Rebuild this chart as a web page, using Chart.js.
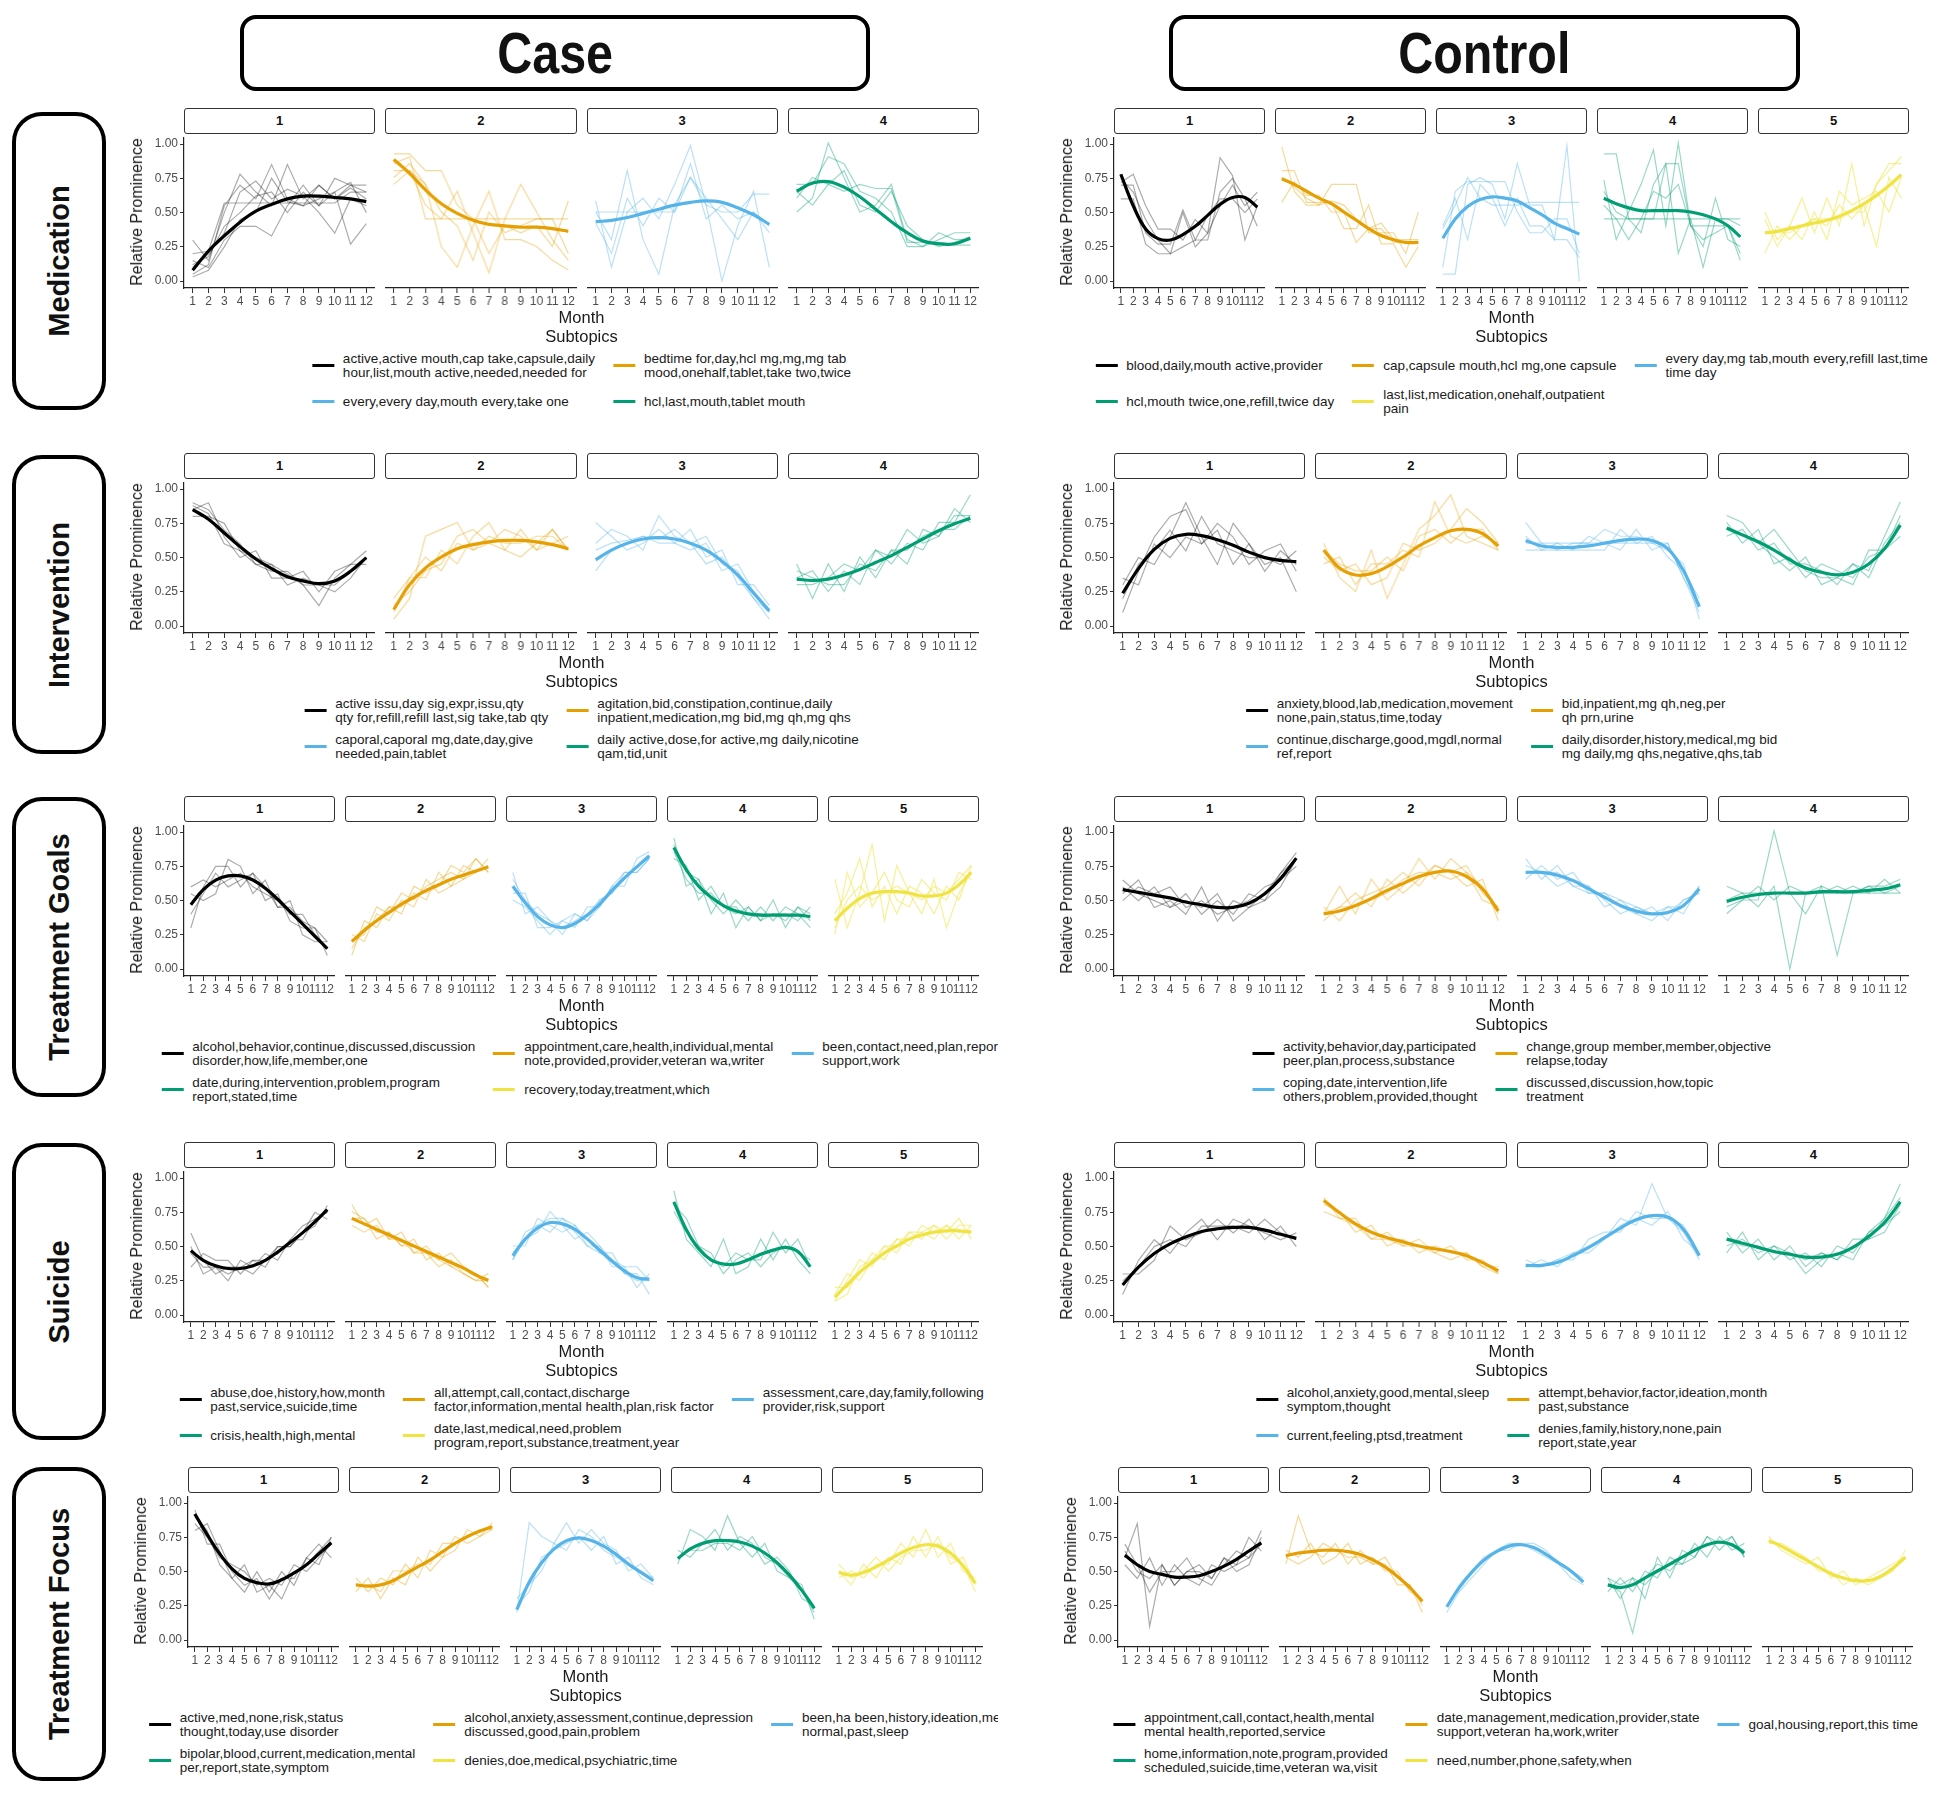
<!DOCTYPE html>
<html lang="en">
<head>
<meta charset="UTF-8">
<title>Subtopic prominence by month</title>
<script src="https://cdn.jsdelivr.net/npm/chart.js@4.4.1/dist/chart.umd.min.js"></script>
<style>
  body { margin: 0; background: #fff; font-family: "Liberation Sans", Arial, sans-serif; color: #111; }
  #page { position: relative; width: 1950px; height: 1806px; overflow: hidden; }
  #caseClip { position: absolute; left: 0; top: 0; width: 998px; height: 1806px; overflow: hidden; }
  .head { position: absolute; top: 15px; height: 76px; border: 4px solid #000; border-radius: 16px; box-sizing: border-box; display: flex; align-items: center; justify-content: center; }
  .head span { font-weight: bold; font-size: 57px; transform: scaleX(0.85); }
  .side { position: absolute; left: 12px; width: 94px; border: 4px solid #000; border-radius: 30px; box-sizing: border-box; }
  .side span { position: absolute; left: 50%; top: 50%; transform: translate(-50%, -50%) rotate(-90deg); font-weight: bold; font-size: 29px; white-space: nowrap; }
  .strip { position: absolute; height: 26px; border: 1.5px solid #333; border-radius: 3px; box-sizing: border-box; text-align: center; font-weight: bold; font-size: 13px; line-height: 23px; background: #fff; }
  canvas { position: absolute; }
  .ytitle { position: absolute; font-size: 16px; white-space: nowrap; transform: translate(-50%, -50%) rotate(-90deg); color: #1a1a1a; }
  .xtitle { position: absolute; font-size: 16.5px; line-height: 20px; white-space: nowrap; transform: translateX(-50%); color: #1a1a1a; }
  .legend { position: absolute; width: max-content; display: grid; column-gap: 18px; row-gap: 9px; grid-auto-rows: 27px; font-size: 13.5px; line-height: 13.5px; white-space: pre; transform: translateX(-50%); color: #1a1a1a; }
  .item { display: flex; align-items: center; }
  .key { width: 22px; height: 3.5px; margin-right: 9px; flex: none; }
</style>
</head>
<body>
<div id="page">
  <div class="head" style="left:240px;width:630px;"><span>Case</span></div>
  <div class="head" style="left:1169px;width:631px;"><span>Control</span></div>
  <div class="side" style="top:112px;height:298px;"><span>Medication</span></div>
  <div class="side" style="top:455px;height:299px;"><span>Intervention</span></div>
  <div class="side" style="top:797px;height:300px;"><span>Treatment Goals</span></div>
  <div class="side" style="top:1143px;height:297px;"><span>Suicide</span></div>
  <div class="side" style="top:1467px;height:314px;"><span>Treatment Focus</span></div>
  <div id="caseClip"></div>
</div>
<script>
const months = [1, 2, 3, 4, 5, 6, 7, 8, 9, 10, 11, 12];
const yTicks = [0, 0.25, 0.5, 0.75, 1];
const palette = ['#000000', '#E69F00', '#56B4E9', '#009E73', '#F0E442'];
const thinAlpha = [0.33, 0.4, 0.4, 0.4, 0.55];

// values are relative prominence x 100, month 1..12
// ---- Medication ----
const medCaseFit = [
  [8, 22, 33, 43, 51, 56, 60, 62, 62, 61, 60, 58],
  [88, 78, 66, 56, 49, 44, 41, 40, 39, 39, 38, 36],
  [43, 44, 46, 49, 52, 55, 57, 58, 57, 53, 48, 41],
  [65, 71, 72, 68, 61, 52, 43, 35, 29, 27, 27, 31]
];
const medCaseRaw = [
  [[5, 12, 55, 70, 60, 85, 60, 55, 70, 60, 70, 65], [10, 20, 35, 65, 73, 60, 67, 62, 50, 35, 60, 55], [3, 8, 25, 45, 50, 75, 58, 55, 60, 65, 72, 50],
   [20, 22, 57, 57, 57, 57, 57, 57, 57, 57, 65, 65], [15, 10, 30, 40, 40, 33, 55, 70, 55, 65, 27, 42], [30, 15, 50, 78, 65, 55, 85, 60, 70, 60, 68, 60],
   [12, 18, 40, 50, 62, 65, 50, 65, 55, 75, 70, 70]],
  [[92, 92, 80, 80, 55, 45, 20, 40, 35, 40, 25, 58], [85, 90, 45, 45, 65, 35, 6, 45, 70, 50, 30, 15], [70, 80, 70, 50, 40, 15, 50, 35, 40, 45, 45, 20],
   [80, 80, 55, 45, 45, 45, 45, 45, 45, 45, 45, 45], [75, 85, 70, 25, 10, 40, 65, 30, 30, 25, 15, 8]],
  [[58, 10, 50, 60, 45, 70, 98, 55, 0, 40, 65, 10], [50, 30, 80, 30, 5, 55, 75, 60, 45, 30, 50, 35], [50, 50, 50, 50, 50, 50, 75, 55, 50, 50, 63, 63],
   [42, 20, 60, 40, 60, 50, 85, 45, 55, 45, 50, 40]],
  [[50, 60, 100, 75, 50, 55, 70, 30, 25, 35, 30, 30], [70, 70, 90, 85, 65, 60, 50, 25, 25, 30, 35, 35], [65, 55, 70, 65, 70, 67, 67, 28, 28, 28, 26, 26],
   [60, 75, 70, 80, 55, 50, 65, 40, 30, 25, 28, 32]]
];
const medCaseKeys = [
  'active,active mouth,cap take,capsule,daily\nhour,list,mouth active,needed,needed for',
  'bedtime for,day,hcl mg,mg,mg tab\nmood,onehalf,tablet,take two,twice',
  'every,every day,mouth every,take one',
  'hcl,last,mouth,tablet mouth'
];
const medCtrlFit = [
  [78, 55, 38, 31, 30, 34, 40, 48, 56, 61, 61, 54],
  [74, 70, 65, 60, 56, 50, 44, 38, 33, 30, 28, 28],
  [31, 45, 54, 59, 61, 60, 58, 53, 48, 42, 38, 34],
  [60, 56, 53, 51, 51, 51, 51, 50, 48, 45, 40, 32],
  [35, 36, 38, 40, 42, 44, 47, 51, 56, 62, 69, 77]
];
const medCtrlRaw = [
  [[72, 78, 55, 38, 38, 30, 45, 35, 90, 77, 30, 55], [60, 60, 27, 20, 20, 25, 30, 30, 65, 75, 60, 40], [75, 65, 45, 30, 20, 50, 25, 35, 55, 70, 55, 65],
   [70, 70, 35, 27, 27, 52, 30, 48, 60, 60, 50, 60]],
  [[97, 65, 55, 55, 70, 70, 70, 35, 35, 35, 20, 50], [80, 80, 57, 57, 57, 38, 38, 55, 27, 27, 10, 25], [57, 72, 62, 62, 50, 50, 28, 38, 42, 30, 30, 30],
   [75, 68, 60, 55, 58, 55, 45, 38, 38, 28, 28, 28]],
  [[5, 5, 70, 75, 70, 45, 85, 55, 55, 30, 98, 0], [10, 65, 72, 72, 72, 72, 50, 35, 35, 45, 45, 20], [40, 60, 30, 70, 60, 40, 60, 40, 40, 30, 30, 17],
   [38, 55, 75, 60, 55, 55, 55, 57, 57, 57, 57, 57]],
  [[92, 92, 45, 45, 45, 85, 85, 40, 40, 40, 40, 15], [73, 30, 50, 70, 95, 40, 100, 40, 25, 60, 30, 25], [65, 50, 45, 35, 70, 85, 20, 45, 10, 45, 45, 40],
   [45, 45, 45, 45, 45, 45, 45, 45, 45, 45, 45, 45], [55, 45, 30, 45, 65, 60, 70, 40, 30, 35, 40, 20]],
  [[50, 30, 40, 60, 35, 60, 40, 85, 40, 70, 80, 90], [20, 40, 30, 40, 45, 40, 55, 45, 55, 25, 75, 60], [35, 35, 35, 40, 45, 45, 45, 50, 50, 70, 85, 85],
   [45, 25, 40, 30, 50, 30, 65, 55, 60, 65, 50, 75]]
];
const medCtrlKeys = [
  'blood,daily,mouth active,provider',
  'cap,capsule mouth,hcl mg,one capsule',
  'every day,mg tab,mouth every,refill last,time\ntime day',
  'hcl,mouth twice,one,refill,twice day',
  'last,list,medication,onehalf,outpatient\npain'
];

// ---- Intervention ----
const intCaseFit = [
  [85, 78, 68, 58, 49, 42, 36, 33, 31, 33, 40, 50],
  [12, 30, 42, 50, 56, 59, 61, 62, 62, 61, 59, 56],
  [48, 55, 60, 63, 64, 63, 60, 55, 47, 37, 24, 11],
  [34, 33, 34, 37, 41, 46, 51, 57, 63, 69, 74, 78]
];
const intCaseRaw = [
  [[90, 85, 70, 60, 45, 40, 40, 30, 15, 35, 45, 55], [85, 90, 65, 50, 55, 35, 35, 40, 25, 40, 45, 45], [80, 80, 75, 55, 45, 45, 30, 35, 30, 30, 40, 50],
   [88, 82, 60, 55, 50, 45, 38, 30, 30, 25, 35, 50]],
  [[5, 20, 65, 70, 75, 55, 60, 70, 65, 55, 70, 55], [20, 35, 35, 55, 45, 65, 75, 55, 50, 60, 70, 55], [10, 35, 50, 40, 60, 55, 65, 60, 60, 65, 65, 55],
   [15, 25, 40, 45, 65, 70, 60, 55, 70, 55, 60, 65]],
  [[60, 70, 65, 55, 80, 65, 60, 45, 50, 35, 20, 5], [40, 55, 60, 65, 60, 60, 55, 60, 40, 45, 25, 10], [75, 65, 55, 60, 70, 60, 70, 50, 55, 30, 30, 15],
   [55, 60, 62, 65, 63, 70, 60, 65, 45, 40, 20, 10]],
  [[45, 20, 45, 25, 50, 35, 55, 45, 70, 65, 85, 75], [35, 40, 25, 40, 30, 55, 45, 60, 55, 75, 75, 95], [30, 30, 35, 45, 40, 55, 50, 70, 60, 65, 80, 80],
   [40, 35, 30, 30, 45, 40, 55, 55, 65, 70, 70, 80]]
];
const intCaseKeys = [
  'active issu,day sig,expr,issu,qty\nqty for,refill,refill last,sig take,tab qty',
  'agitation,bid,constipation,continue,daily\ninpatient,medication,mg bid,mg qh,mg qhs',
  'caporal,caporal mg,date,day,give\nneeded,pain,tablet',
  'daily active,dose,for active,mg daily,nicotine\nqam,tid,unit'
];
const intCtrlFit = [
  [24, 42, 56, 64, 67, 66, 63, 59, 54, 50, 48, 47],
  [55, 42, 37, 38, 43, 50, 58, 64, 69, 70, 67, 58],
  [62, 58, 57, 57, 58, 60, 62, 63, 62, 56, 40, 14],
  [71, 66, 61, 55, 48, 42, 39, 37, 39, 45, 56, 73]
];
const intCtrlRaw = [
  [[10, 40, 65, 80, 85, 60, 75, 65, 45, 55, 60, 40], [30, 50, 45, 65, 90, 65, 45, 75, 60, 45, 50, 25], [20, 45, 55, 70, 55, 80, 60, 55, 50, 50, 45, 55],
   [35, 30, 60, 50, 65, 60, 70, 45, 60, 40, 55, 45]],
  [[60, 35, 25, 55, 20, 45, 70, 80, 95, 65, 60, 55], [50, 40, 45, 30, 35, 60, 55, 60, 70, 85, 75, 60], [55, 45, 40, 40, 50, 40, 65, 70, 60, 70, 70, 55],
   [45, 50, 30, 45, 45, 55, 50, 90, 65, 60, 65, 60]],
  [[75, 60, 55, 60, 60, 70, 65, 65, 60, 55, 45, 5], [55, 55, 60, 55, 55, 55, 70, 60, 60, 60, 35, 15], [60, 60, 60, 60, 60, 60, 60, 60, 65, 50, 40, 20],
   [65, 55, 55, 55, 65, 60, 55, 70, 55, 60, 35, 10]],
  [[80, 75, 60, 70, 55, 40, 35, 35, 30, 55, 55, 80], [65, 70, 55, 60, 45, 45, 40, 30, 45, 40, 65, 90], [75, 60, 70, 45, 50, 35, 45, 40, 35, 50, 55, 65],
   [70, 65, 60, 50, 40, 50, 30, 35, 45, 35, 60, 75]]
];
const intCtrlKeys = [
  'anxiety,blood,lab,medication,movement\nnone,pain,status,time,today',
  'bid,inpatient,mg qh,neg,per\nqh prn,urine',
  'continue,discharge,good,mgdl,normal\nref,report',
  'daily,disorder,history,medical,mg bid\nmg daily,mg qhs,negative,qhs,tab'
];

// ---- Treatment Goals ----
const goalCaseFit = [
  [47, 58, 65, 68, 68, 65, 59, 51, 42, 33, 24, 15],
  [20, 28, 35, 41, 47, 52, 57, 61, 65, 68, 71, 74],
  [60, 48, 38, 32, 30, 33, 39, 47, 57, 66, 74, 82],
  [88, 72, 60, 52, 46, 42, 40, 39, 39, 39, 39, 38],
  [35, 44, 51, 55, 56, 56, 55, 53, 53, 55, 61, 70]
];
const goalCaseRaw = [
  [[30, 60, 75, 75, 60, 70, 50, 55, 35, 30, 30, 10], [55, 50, 55, 80, 75, 55, 65, 45, 50, 25, 20, 20], [60, 65, 60, 65, 70, 60, 55, 50, 40, 40, 25, 15],
   [40, 55, 70, 60, 65, 70, 60, 45, 45, 35, 30, 20]],
  [[10, 35, 30, 45, 40, 60, 55, 60, 75, 70, 80, 70], [25, 20, 40, 35, 50, 45, 65, 55, 60, 75, 70, 80], [15, 30, 35, 45, 45, 55, 50, 70, 60, 65, 70, 75],
   [20, 25, 45, 40, 55, 50, 60, 65, 70, 65, 80, 70]],
  [[70, 40, 45, 35, 25, 40, 35, 50, 55, 70, 70, 80], [55, 55, 30, 30, 35, 30, 45, 45, 60, 60, 80, 85], [65, 50, 40, 35, 30, 35, 40, 50, 55, 65, 75, 80],
   [50, 45, 35, 25, 35, 40, 35, 45, 60, 70, 70, 80]],
  [[95, 60, 65, 40, 55, 30, 45, 35, 50, 30, 45, 35], [80, 75, 50, 60, 45, 45, 35, 45, 35, 45, 40, 30], [90, 70, 65, 50, 40, 50, 40, 40, 40, 35, 45, 40],
   [85, 65, 55, 55, 45, 40, 45, 35, 40, 40, 35, 45]],
  [[65, 30, 55, 90, 35, 75, 55, 40, 65, 30, 55, 70], [40, 55, 80, 45, 60, 40, 60, 55, 40, 60, 50, 75], [25, 70, 45, 55, 70, 50, 45, 65, 55, 50, 70, 65],
   [30, 50, 60, 50, 55, 60, 55, 50, 60, 55, 65, 75]]
];
const goalCaseKeys = [
  'alcohol,behavior,continue,discussed,discussion\ndisorder,how,life,member,one',
  'appointment,care,health,individual,mental\nnote,provided,provider,veteran wa,writer',
  'been,contact,need,plan,report\nsupport,work',
  'date,during,intervention,problem,program\nreport,stated,time',
  'recovery,today,treatment,which'
];
const goalCtrlFit = [
  [58, 56, 54, 52, 49, 47, 45, 45, 48, 55, 66, 81],
  [40, 42, 46, 51, 57, 62, 67, 70, 71, 67, 58, 42],
  [70, 70, 68, 64, 58, 52, 46, 42, 40, 41, 46, 58],
  [49, 52, 54, 55, 55, 55, 56, 56, 56, 57, 58, 61]
];
const goalCtrlRaw = [
  [[55, 65, 45, 50, 40, 60, 35, 50, 45, 55, 70, 85], [60, 50, 60, 45, 55, 40, 50, 40, 55, 50, 60, 80], [50, 60, 55, 60, 45, 50, 40, 45, 50, 60, 65, 75],
   [65, 55, 50, 45, 50, 45, 55, 35, 45, 50, 70, 80]],
  [[40, 60, 40, 65, 50, 60, 80, 65, 80, 70, 60, 40], [35, 45, 55, 45, 65, 55, 65, 75, 70, 75, 55, 45], [45, 35, 50, 55, 60, 70, 60, 75, 70, 60, 65, 35],
   [40, 45, 45, 50, 55, 65, 70, 70, 65, 70, 50, 45]],
  [[80, 65, 75, 60, 60, 45, 50, 40, 35, 45, 45, 60], [65, 75, 65, 70, 55, 55, 45, 40, 45, 35, 50, 55], [70, 70, 60, 65, 60, 50, 40, 45, 40, 45, 40, 60],
   [75, 70, 70, 60, 55, 55, 50, 45, 40, 40, 50, 55]],
  [[40, 50, 50, 100, 55, 40, 60, 10, 55, 60, 60, 65], [50, 55, 55, 55, 55, 55, 55, 55, 55, 55, 55, 55], [60, 55, 45, 60, 0, 55, 60, 55, 60, 55, 65, 55],
   [45, 50, 60, 50, 60, 55, 55, 60, 55, 60, 55, 60]]
];
const goalCtrlKeys = [
  'activity,behavior,day,participated\npeer,plan,process,substance',
  'change,group member,member,objective\nrelapse,today',
  'coping,date,intervention,life\nothers,problem,provided,thought',
  'discussed,discussion,how,topic\ntreatment'
];

// ---- Suicide ----
const suiCaseFit = [
  [47, 40, 36, 34, 34, 36, 40, 46, 53, 60, 68, 77],
  [70, 66, 62, 58, 54, 50, 46, 42, 38, 34, 29, 25],
  [43, 55, 63, 67, 66, 62, 55, 47, 39, 32, 27, 26],
  [82, 62, 48, 40, 37, 37, 40, 44, 47, 49, 46, 35],
  [13, 22, 31, 38, 45, 50, 55, 58, 60, 61, 61, 60]
];
const suiCaseRaw = [
  [[50, 30, 35, 25, 40, 35, 45, 40, 55, 65, 70, 75], [35, 45, 40, 40, 30, 40, 35, 50, 50, 60, 65, 80], [60, 40, 30, 35, 35, 30, 40, 45, 55, 55, 70, 75],
   [45, 35, 35, 30, 35, 40, 40, 50, 50, 60, 75, 70]],
  [[80, 65, 70, 55, 60, 45, 50, 40, 45, 35, 30, 20], [70, 70, 55, 60, 50, 55, 40, 45, 35, 30, 25, 30], [65, 60, 65, 55, 55, 45, 45, 35, 40, 30, 25, 25],
   [75, 70, 60, 60, 50, 50, 45, 40, 35, 35, 30, 20]],
  [[40, 60, 65, 70, 70, 65, 50, 45, 40, 30, 25, 25], [45, 55, 60, 75, 65, 55, 60, 50, 35, 35, 20, 30], [50, 50, 70, 65, 60, 65, 55, 45, 45, 30, 30, 15],
   [40, 55, 65, 60, 70, 60, 50, 50, 40, 35, 35, 25]],
  [[90, 55, 45, 35, 55, 30, 35, 55, 40, 55, 40, 30], [80, 70, 50, 40, 35, 45, 40, 40, 60, 45, 55, 35], [75, 60, 50, 45, 30, 40, 45, 35, 45, 50, 45, 40]],
  [[10, 25, 40, 35, 50, 45, 60, 55, 65, 60, 70, 55], [20, 20, 30, 45, 40, 55, 50, 65, 60, 65, 55, 65], [15, 30, 25, 40, 50, 50, 60, 60, 55, 65, 60, 60],
   [10, 15, 35, 40, 45, 55, 55, 60, 65, 55, 65, 65]]
];
const suiCaseKeys = [
  'abuse,doe,history,how,month\npast,service,suicide,time',
  'all,attempt,call,contact,discharge\nfactor,information,mental health,plan,risk factor',
  'assessment,care,day,family,following\nprovider,risk,support',
  'crisis,health,high,mental',
  'date,last,medical,need,problem\nprogram,report,substance,treatment,year'
];
const suiCtrlFit = [
  [22, 35, 45, 52, 57, 61, 63, 64, 64, 62, 59, 56],
  [83, 74, 66, 60, 56, 53, 50, 48, 46, 43, 38, 32],
  [36, 36, 38, 43, 49, 56, 63, 69, 72, 71, 62, 43],
  [55, 52, 49, 46, 44, 42, 42, 44, 49, 57, 67, 82]
];
const suiCtrlRaw = [
  [[15, 40, 55, 45, 60, 70, 55, 70, 65, 60, 55, 60], [30, 30, 40, 65, 55, 60, 70, 60, 70, 55, 65, 50], [25, 35, 50, 55, 50, 65, 65, 65, 60, 70, 60, 55]],
  [[85, 70, 65, 55, 60, 50, 55, 45, 50, 40, 40, 30], [80, 75, 60, 65, 50, 55, 45, 50, 45, 45, 35, 35], [75, 70, 70, 55, 55, 50, 50, 45, 40, 45, 35, 30]],
  [[35, 40, 35, 45, 50, 55, 70, 65, 95, 70, 60, 40], [40, 35, 40, 40, 55, 60, 60, 75, 70, 70, 65, 45], [35, 35, 40, 45, 45, 55, 65, 70, 65, 75, 55, 45]],
  [[60, 45, 55, 40, 50, 35, 45, 40, 55, 55, 70, 95], [50, 55, 45, 50, 40, 45, 35, 50, 45, 60, 65, 75], [55, 50, 50, 45, 45, 40, 45, 40, 50, 55, 60, 80],
   [45, 60, 40, 50, 45, 30, 40, 45, 40, 60, 70, 85]]
];
const suiCtrlKeys = [
  'alcohol,anxiety,good,mental,sleep\nsymptom,thought',
  'attempt,behavior,factor,ideation,month\npast,substance',
  'current,feeling,ptsd,treatment',
  'denies,family,history,none,pain\nreport,state,year'
];

// ---- Treatment Focus ----
const focCaseFit = [
  [92, 77, 63, 52, 45, 42, 41, 44, 49, 55, 63, 71],
  [40, 39, 40, 43, 48, 53, 58, 64, 70, 75, 79, 82],
  [22, 42, 56, 66, 72, 74, 72, 68, 62, 55, 49, 43],
  [59, 66, 70, 72, 72, 71, 68, 63, 56, 47, 36, 23],
  [49, 47, 49, 53, 58, 63, 67, 69, 68, 63, 54, 41]
];
const focCaseRaw = [
  [[90, 80, 55, 45, 55, 35, 40, 30, 50, 55, 65, 75], [95, 70, 70, 50, 40, 45, 30, 45, 45, 60, 70, 60], [85, 75, 60, 55, 50, 40, 45, 40, 55, 50, 60, 70],
   [80, 85, 65, 45, 35, 50, 35, 50, 40, 60, 55, 75]],
  [[35, 45, 30, 45, 40, 60, 50, 60, 75, 70, 75, 80], [45, 35, 45, 40, 55, 45, 65, 60, 65, 80, 75, 85], [40, 40, 35, 50, 50, 55, 55, 70, 70, 75, 80, 80]],
  [[20, 85, 75, 70, 85, 70, 80, 70, 65, 50, 55, 45], [25, 35, 60, 65, 70, 75, 65, 75, 55, 60, 45, 40], [30, 40, 50, 70, 65, 80, 75, 65, 60, 55, 50, 45]],
  [[55, 80, 75, 65, 90, 70, 60, 70, 50, 45, 35, 20], [65, 60, 70, 80, 65, 75, 70, 55, 60, 50, 30, 25], [60, 65, 65, 70, 70, 65, 75, 60, 55, 45, 40, 15]],
  [[50, 40, 55, 45, 60, 55, 75, 60, 75, 55, 60, 40], [45, 50, 45, 55, 55, 70, 60, 80, 60, 70, 50, 45], [55, 45, 50, 60, 50, 60, 65, 65, 70, 60, 55, 35]]
];
const focCaseKeys = [
  'active,med,none,risk,status\nthought,today,use disorder',
  'alcohol,anxiety,assessment,continue,depression\ndiscussed,good,pain,problem',
  'been,ha been,history,ideation,mental\nnormal,past,sleep',
  'bipolar,blood,current,medication,mental\nper,report,state,symptom',
  'denies,doe,medical,psychiatric,time'
];
const focCtrlFit = [
  [62, 55, 50, 48, 46, 46, 47, 50, 54, 59, 65, 71],
  [61, 63, 64, 65, 65, 64, 62, 58, 53, 46, 38, 28],
  [24, 38, 49, 58, 64, 68, 69, 67, 62, 56, 50, 42],
  [40, 38, 40, 45, 50, 55, 60, 65, 69, 71, 69, 63],
  [72, 68, 63, 58, 53, 48, 45, 43, 43, 46, 52, 60]
];
const focCtrlRaw = [
  [[60, 85, 10, 55, 40, 50, 55, 45, 60, 50, 55, 75], [70, 55, 35, 50, 50, 60, 45, 40, 55, 65, 60, 70], [55, 45, 60, 40, 55, 45, 40, 55, 50, 55, 75, 65],
   [65, 50, 45, 55, 40, 50, 50, 45, 60, 55, 60, 80]],
  [[55, 90, 65, 60, 70, 55, 65, 55, 60, 45, 40, 20], [65, 60, 70, 55, 60, 70, 55, 60, 50, 50, 35, 30], [60, 55, 60, 70, 65, 60, 60, 55, 55, 40, 40, 25]],
  [[25, 40, 50, 60, 65, 70, 70, 65, 60, 55, 50, 45], [20, 35, 45, 55, 65, 65, 70, 70, 65, 55, 45, 40]],
  [[45, 30, 45, 30, 60, 45, 65, 60, 75, 65, 75, 60], [35, 45, 35, 50, 45, 60, 55, 70, 60, 75, 65, 70], [40, 35, 5, 45, 55, 50, 60, 65, 70, 70, 70, 65],
   [45, 40, 45, 40, 50, 55, 55, 60, 75, 70, 75, 60]],
  [[75, 65, 60, 55, 60, 45, 50, 40, 45, 50, 55, 60], [70, 70, 65, 60, 50, 50, 40, 45, 40, 45, 50, 65]]
];
const focCtrlKeys = [
  'appointment,call,contact,health,mental\nmental health,reported,service',
  'date,management,medication,provider,state\nsupport,veteran ha,work,writer',
  'goal,housing,report,this time',
  'home,information,note,program,provided\nscheduled,suicide,time,veteran wa,visit',
  'need,number,phone,safety,when'
];

const groups = [
  { side: 'case', row: 0, fit: medCaseFit, raw: medCaseRaw, keys: medCaseKeys },
  { side: 'control', row: 0, fit: medCtrlFit, raw: medCtrlRaw, keys: medCtrlKeys },
  { side: 'case', row: 1, fit: intCaseFit, raw: intCaseRaw, keys: intCaseKeys },
  { side: 'control', row: 1, fit: intCtrlFit, raw: intCtrlRaw, keys: intCtrlKeys },
  { side: 'case', row: 2, fit: goalCaseFit, raw: goalCaseRaw, keys: goalCaseKeys },
  { side: 'control', row: 2, fit: goalCtrlFit, raw: goalCtrlRaw, keys: goalCtrlKeys },
  { side: 'case', row: 3, fit: suiCaseFit, raw: suiCaseRaw, keys: suiCaseKeys },
  { side: 'control', row: 3, fit: suiCtrlFit, raw: suiCtrlRaw, keys: suiCtrlKeys },
  { side: 'case', row: 4, fit: focCaseFit, raw: focCaseRaw, keys: focCaseKeys },
  { side: 'control', row: 4, fit: focCtrlFit, raw: focCtrlRaw, keys: focCtrlKeys }
];

// layout (px)
const rowTop = [108, 453, 796, 1142, 1467];
const rowShift = [0, 0, 0, 0, 4];
const panelLeft = { case: 184, control: 1114 };
const panelW = 795, facetGap = 10;
const plotH = 152;      // height for y -0.05 .. 1.05
const padTop = 8, xAxisH = 22, yAxisW = 44;

Chart.defaults.font.family = '"Liberation Sans", Arial, sans-serif';

const page = document.getElementById('page');
const caseClip = document.getElementById('caseClip');

function rgba(hex, a) {
  const n = parseInt(hex.slice(1), 16);
  return 'rgba(' + (n >> 16) + ',' + ((n >> 8) & 255) + ',' + (n & 255) + ',' + a + ')';
}

function addDiv(parent, cls, css, text) {
  const d = document.createElement('div');
  d.className = cls;
  Object.assign(d.style, css);
  if (text !== undefined) d.textContent = text;
  parent.appendChild(d);
  return d;
}

function drawFacet(x, y, w, raw, fit, ci, withY) {
  const cv = document.createElement('canvas');
  const cw = withY ? w + yAxisW : w;
  const ch = padTop + plotH + xAxisH;
  cv.width = cw; cv.height = ch;
  cv.style.left = (withY ? x - yAxisW : x) + 'px';
  cv.style.top = y + 'px';
  cv.style.width = cw + 'px'; cv.style.height = ch + 'px';
  page.appendChild(cv);

  const col = palette[ci];
  const datasets = raw.map(r => ({
    data: r.map((v, k) => ({ x: months[k], y: v / 100 })),
    borderColor: rgba(col, thinAlpha[ci]), borderWidth: 1.2,
    pointRadius: 0, tension: 0, fill: false
  }));
  datasets.push({
    data: fit.map((v, k) => ({ x: months[k], y: v / 100 })),
    borderColor: col, borderWidth: 3.2, pointRadius: 0, tension: 0.4, fill: false
  });

  new Chart(cv, {
    type: 'line',
    data: { datasets },
    options: {
      responsive: false, animation: false, devicePixelRatio: 1,
      layout: { padding: { top: padTop, left: 0, right: 0, bottom: 0 } },
      plugins: { legend: { display: false }, tooltip: { enabled: false } },
      scales: {
        x: {
          type: 'linear', min: 0.45, max: 12.55,
          afterBuildTicks: s => { s.ticks = months.map(m => ({ value: m })); },
          afterFit: s => { s.height = xAxisH; },
          grid: { drawOnChartArea: false, drawTicks: true, tickLength: 5, color: '#333', lineWidth: 1 },
          border: { display: true, color: '#222', width: 1.2 },
          ticks: { autoSkip: false, maxRotation: 0, minRotation: 0, padding: 1, color: '#4d4d4d',
                   font: { size: 12 }, callback: v => String(v) }
        },
        y: {
          display: withY, min: -0.05, max: 1.05,
          afterBuildTicks: s => { s.ticks = yTicks.map(v => ({ value: v })); },
          afterFit: s => { s.width = withY ? yAxisW : 0; },
          grid: { drawOnChartArea: false, drawTicks: true, tickLength: 4, color: '#333', lineWidth: 1 },
          border: { display: true, color: '#222', width: 1.2 },
          ticks: { padding: 2, color: '#4d4d4d', font: { size: 12 }, callback: v => v.toFixed(2) }
        }
      }
    }
  });
}

groups.forEach(g => {
  const T = rowTop[g.row];
  const left = panelLeft[g.side] + rowShift[g.row];
  const n = g.fit.length;
  const w = (panelW - facetGap * (n - 1)) / n;

  for (let i = 0; i < n; i++) {
    const fx = left + i * (w + facetGap);
    addDiv(page, 'strip', { left: fx + 'px', top: T + 'px', width: w + 'px' }, String(i + 1));
    drawFacet(fx, T + 28 - padTop, w, g.raw[i], g.fit[i], i, i === 0);
  }

  const cx = left + panelW / 2;
  addDiv(page, 'ytitle', { left: (left - 47) + 'px', top: (T + 28 + plotH / 2) + 'px' }, 'Relative Prominence');
  addDiv(page, 'xtitle', { left: cx + 'px', top: (T + 199) + 'px' }, 'Month');
  addDiv(page, 'xtitle', { left: cx + 'px', top: (T + 218) + 'px' }, 'Subtopics');

  const host = g.side === 'case' ? caseClip : page;
  const lg = addDiv(host, 'legend', {
    left: cx + 'px', top: (T + 244) + 'px',
    gridTemplateColumns: 'repeat(' + (n === 4 ? 2 : 3) + ', max-content)'
  });
  g.keys.forEach((label, k) => {
    const it = addDiv(lg, 'item', {});
    addDiv(it, 'key', { background: palette[k] });
    addDiv(it, 'txt', {}, label);
  });
});
</script>
</body>
</html>
